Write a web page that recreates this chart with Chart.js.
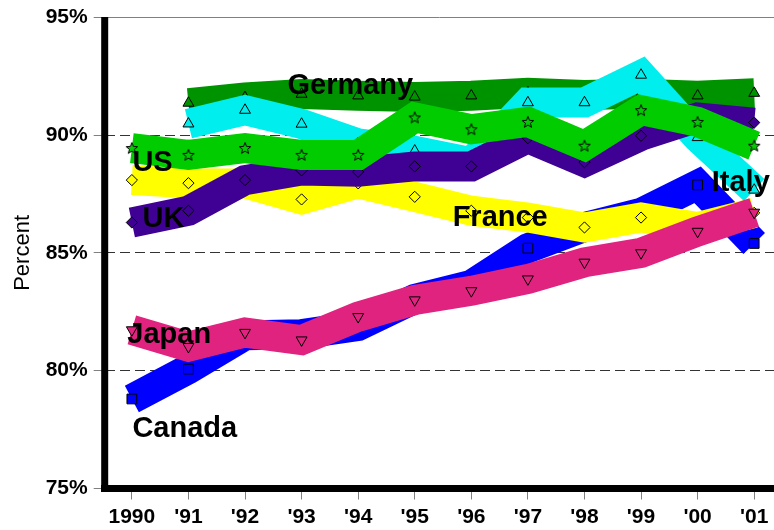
<!DOCTYPE html>
<html>
<head>
<meta charset="utf-8">
<script src="https://cdn.jsdelivr.net/npm/chart.js@4.4.1/dist/chart.umd.min.js"></script>
<style>
  html, body { margin: 0; padding: 0; background: #fff; overflow: hidden; }
  #wrap { width: 774px; height: 530px; }
</style>
</head>
<body>
<div id="wrap"><canvas id="c" width="774" height="530"></canvas></div>
<script>
// Years on the horizontal axis and the labels shown under them
const years = [1990, 1991, 1992, 1993, 1994, 1995, 1996, 1997, 1998, 1999, 2000, 2001];
const yearLabels = ['1990', "'91", "'92", "'93", "'94", "'95", "'96", "'97", "'98", "'99", "'00", "'01"];
const percentTicks = [75, 80, 85, 90, 95];

// Percent values per country
const germany = [null, 91.36, 91.6, 91.74, 91.67, 91.62, 91.67, 91.8, 91.7, 91.75, 91.67, 91.78];
const canada  = [78.8, 80.07, 81.5, 81.55, 81.9, 83.05, 83.64, 85.2, 86.1, 86.7, 87.89, 85.4];
const france  = [88.09, 87.96, 87.95, 87.27, 87.95, 87.38, 86.79, 86.5, 86.08, 86.5, 86.1, 86.7];
const italy   = [null, 90.48, 91.06, 90.47, 89.65, 89.33, 88.85, 91.38, 91.38, 92.55, 89.9, 87.67];
const uk      = [86.29, 86.79, 88.09, 88.5, 88.44, 88.67, 88.67, 89.87, 88.85, 89.97, 90.75, 90.53];
const us      = [89.45, 89.16, 89.45, 89.16, 89.16, 90.75, 90.25, 90.56, 89.55, 91.06, 90.56, 89.55];
const japan   = [81.73, 81.02, 81.62, 81.3, 82.29, 83.0, 83.39, 83.89, 84.6, 85.0, 85.91, 86.72];

// Country names written on the chart, with their anchor (year, percent) at the text baseline start
const nameText  = ['Germany', 'US', 'UK', 'France', 'Italy', 'Japan', 'Canada'];
const nameYear  = [1992.75, 1990.01, 1990.19, 1995.67, 2000.25, 1989.92, 1990.01];
const nameValue = [91.75, 88.49, 86.08, 86.15, 87.64, 81.16, 77.2];

const FONT = '"Liberation Sans", Arial, Helvetica, sans-serif';

// Five-pointed outlined star used as the US marker
function makeStar(fill) {
  const s = 14, c = document.createElement('canvas');
  c.width = s; c.height = s;
  const g = c.getContext('2d');
  const R = 6, r = 2.6, cx = s / 2, cy = s / 2 + 0.5;
  g.beginPath();
  for (let i = 0; i < 10; i++) {
    const rad = (i % 2 === 0) ? R : r;
    const a = -Math.PI / 2 + i * Math.PI / 5;
    const px = cx + rad * Math.cos(a), py = cy + rad * Math.sin(a);
    i === 0 ? g.moveTo(px, py) : g.lineTo(px, py);
  }
  g.closePath();
  g.fillStyle = fill; g.fill();
  g.lineWidth = 1; g.strokeStyle = '#000'; g.stroke();
  return c;
}

function band(label, values, color, style, radius, rotation, order) {
  return {
    label,
    data: values.map((v, i) => ({ x: years[i], y: v })),
    borderColor: color,
    backgroundColor: color,
    borderWidth: 30,
    borderJoinStyle: 'miter',
    borderCapStyle: 'butt',
    tension: 0,
    fill: false,
    spanGaps: false,
    pointStyle: style,
    pointRadius: radius,
    pointRotation: rotation,
    pointBackgroundColor: color,
    pointBorderColor: '#000',
    pointBorderWidth: 1,
    order
  };
}

// Listed bottom layer first; a higher order is painted earlier
const datasets = [
  band('Germany', germany, '#009300', 'triangle', 6.3, 0, 7),
  band('Canada',  canada,  '#0000FF', 'rect', 6.9, 0, 6),
  band('France',  france,  '#FFFF00', 'rectRot', 5.6, 0, 5),
  band('Italy',   italy,   '#00EEEE', 'triangle', 6.3, 0, 4),
  band('UK',      uk,      '#3F0094', 'rectRot', 5.6, 0, 3),
  band('US',      us,      '#00CC00', makeStar('#00CC00'), 6, 0, 2),
  band('Japan',   japan,   '#E0237F', 'triangle', 6.3, 180, 1)
];

const decorations = {
  id: 'decorations',
  beforeDatasetsDraw(chart) {
    const { ctx, chartArea } = chart;
    ctx.save();
    // thin frame line along the top of the plot
    ctx.strokeStyle = '#808080';
    ctx.lineWidth = 1;
    const y = Math.round(chartArea.top) + 0.5;
    ctx.beginPath();
    ctx.moveTo(chartArea.left, y);
    ctx.lineTo(chart.width, y);
    ctx.stroke();
    // heavy vertical axis line, starting at the top frame
    ctx.fillStyle = '#000';
    ctx.fillRect(chartArea.left - 3.5, Math.round(chartArea.top), 7, chartArea.bottom - chartArea.top + 3.5);
    ctx.restore();
  },
  afterDatasetsDraw(chart) {
    const { ctx, scales } = chart;
    ctx.save();
    ctx.font = 'bold 29px ' + FONT;
    ctx.fillStyle = '#000';
    ctx.textAlign = 'left';
    ctx.textBaseline = 'alphabetic';
    nameText.forEach((t, i) => {
      ctx.fillText(t, scales.x.getPixelForValue(nameYear[i]), scales.y.getPixelForValue(nameValue[i]));
    });
    ctx.restore();
  }
};

new Chart(document.getElementById('c'), {
  type: 'line',
  data: { datasets },
  plugins: [decorations],
  options: {
    responsive: false,
    animation: false,
    devicePixelRatio: 1,
    layout: { autoPadding: false, padding: { top: 17.3, left: 0, right: 0, bottom: 0 } },
    plugins: { legend: { display: false }, tooltip: { enabled: false } },
    scales: {
      x: {
        type: 'linear',
        min: 1989.52,
        max: 2001.35,
        afterBuildTicks: s => { s.ticks = years.map(v => ({ value: v })); },
        afterFit: s => { s.height = 41.5; s.paddingLeft = 0; s.paddingRight = 0; },
        ticks: {
          autoSkip: false,
          maxRotation: 0,
          padding: 5,
          color: '#000',
          font: { family: FONT, weight: 'bold', size: 21 },
          callback: v => yearLabels[years.indexOf(v)]
        },
        grid: { drawOnChartArea: false, drawTicks: true, tickLength: 11, tickColor: '#808080', tickWidth: 1 },
        border: { display: true, color: '#000', width: 7 }
      },
      y: {
        min: 75,
        max: 95,
        afterBuildTicks: s => { s.ticks = percentTicks.map(v => ({ value: v })); },
        afterFit: s => { s.width = 104.7; s.paddingTop = 0; s.paddingBottom = 0; },
        ticks: {
          padding: 6,
          color: '#000',
          font: { family: FONT, weight: 'bold', size: 21 },
          callback: v => v + '%'
        },
        grid: {
          color: c => (c.tick && c.tick.value > 75 && c.tick.value < 95) ? '#333' : 'rgba(0,0,0,0)',
          lineWidth: 1,
          tickColor: '#808080',
          tickLength: 11
        },
        border: { display: false, color: '#000', width: 7, dash: [10, 5] },
        title: {
          display: true,
          text: 'Percent',
          color: '#000',
          font: { family: FONT, size: 22 },
          padding: { top: 10, bottom: 0 }
        }
      }
    }
  }
});
</script>
</body>
</html>
